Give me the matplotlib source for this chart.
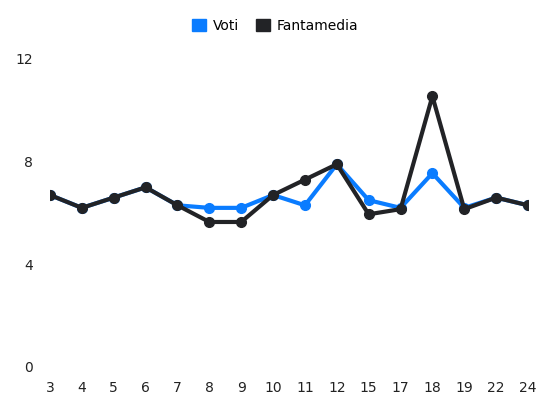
import matplotlib
matplotlib.use("Agg")
import matplotlib.pyplot as plt
from matplotlib.patches import Patch

giornate = ["3","4","5","6","7","8","9","10","11","12","15","17","18","19","22","24"]
voti = [6.7,6.2,6.6,7.0,6.3,6.2,6.2,6.7,6.3,7.9,6.5,6.2,7.55,6.2,6.6,6.3]
fantamedia = [6.7,6.2,6.6,7.0,6.3,5.65,5.65,6.7,7.3,7.9,5.95,6.15,10.55,6.15,6.6,6.3]

fig = plt.figure(figsize=(5.5,4.12), dpi=100)
ax = fig.add_axes([50/550, 1-367/412, 478/550, 308/412])
x = list(range(len(giornate)))
ax.plot(x, voti, color="#0a7cff", lw=3, marker="o", ms=7, zorder=2)
ax.plot(x, fantamedia, color="#222326", lw=3, marker="o", ms=7, zorder=3)
ax.set_xlim(0, len(x)-1)
ax.set_ylim(0, 12)
ax.set_yticks([0,4,8,12])
ax.set_xticks(x)
ax.set_xticklabels(giornate)
for s in ax.spines.values():
    s.set_visible(False)
ax.tick_params(length=0, labelsize=10, colors="#222")
ax.tick_params(axis="y", pad=12)
ax.tick_params(axis="x", pad=10)
ax.patch.set_alpha(0)
fig.legend(handles=[Patch(color="#0a7cff", label="Voti"), Patch(color="#222326", label="Fantamedia")],
           loc="upper center", bbox_to_anchor=(0.5, 0.985), ncol=2, frameon=False,
           handlelength=1.0, handleheight=1.0, fontsize=10, columnspacing=1.2, handletextpad=0.5)
fig.savefig("out.png", dpi=100)
